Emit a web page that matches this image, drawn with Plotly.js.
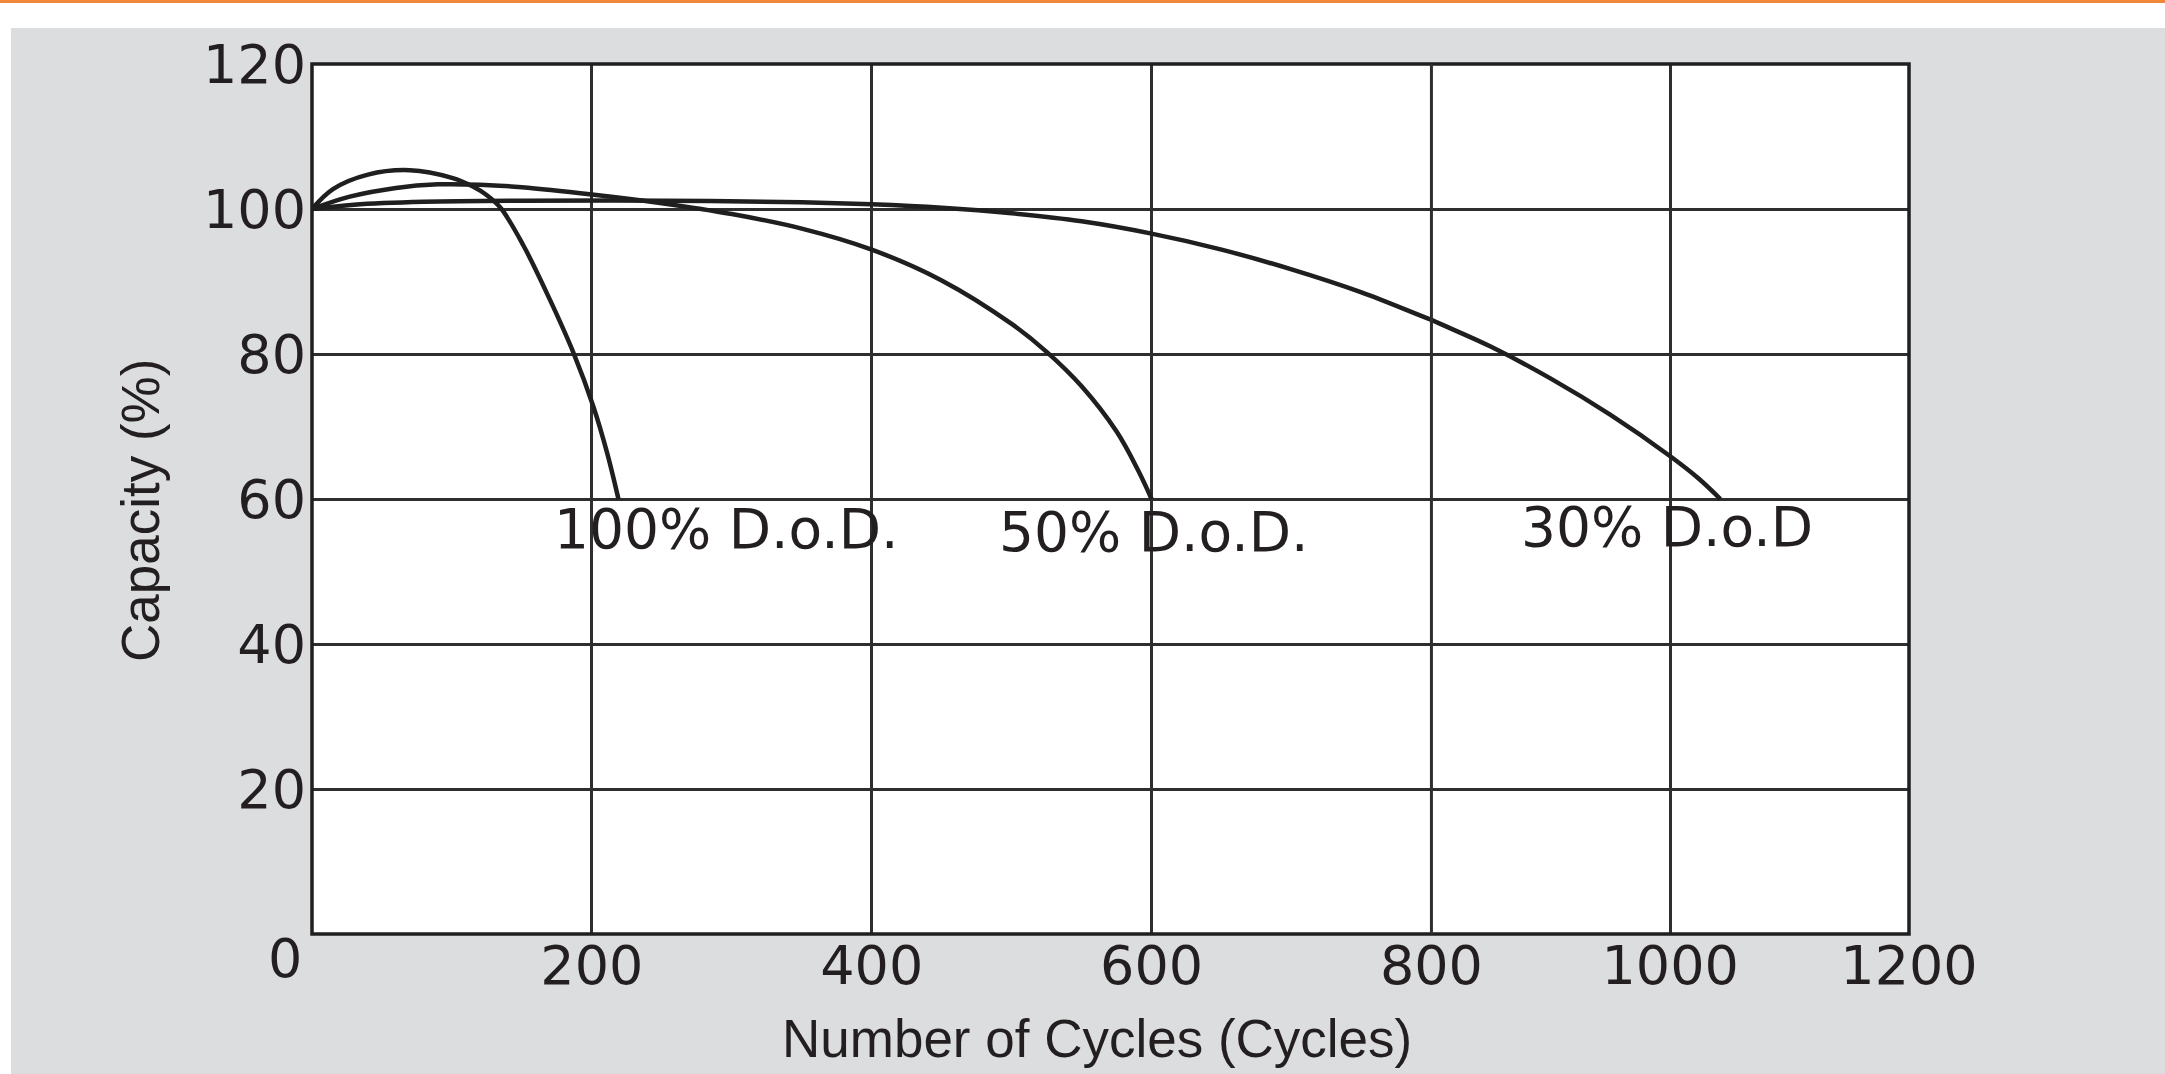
<!DOCTYPE html>
<html>
<head>
<meta charset="utf-8">
<script src="https://cdn.plot.ly/plotly-3.0.1.min.js"></script>
<style>
  html, body { margin: 0; padding: 0; background: #ffffff; width: 2165px; height: 1074px; overflow: hidden; }
  #bar { position: absolute; left: 0; top: 0; width: 2165px; height: 3px; background: #f0883a; }
  #chart { position: absolute; left: 11px; top: 28px; width: 2154px; height: 1046px; }
</style>
</head>
<body>
<div id="bar"></div>
<div id="chart"></div>
<script>
// ---- data ----
const cycles100 = [0, 15, 40, 70, 100, 115, 125, 135, 151, 170, 187, 201, 211, 219];
const cap100    = [100, 102.75, 104.75, 105.35, 104.3, 103.1, 101.9, 100.1, 95.0, 87.5, 80.1, 72.8, 66.3, 60];

const cycles50 = [0, 27, 60, 90, 120, 150, 200, 250, 300, 350, 400, 450, 500, 525, 550, 575, 590, 600];
const cap50    = [100, 101.7, 102.9, 103.4, 103.35, 103.0, 102.0, 100.8, 99.3, 97.3, 94.4, 90.15, 84.15, 80.3, 75.55, 69.3, 64.1, 60];

const cycles30 = [0, 30, 80, 150, 250, 350, 400, 450, 500, 550, 600, 650, 700, 750, 800, 850, 900, 950, 1000, 1024, 1042];
const cap30    = [100, 100.6, 101.0, 101.15, 101.15, 100.94, 100.65, 100.17, 99.4, 98.3, 96.6, 94.4, 91.67, 88.5, 84.7, 81.0, 76.6, 71.6, 65.9, 62.8, 60];

const seriesLabels = ['100% D.o.D.', '50% D.o.D.', '30% D.o.D'];
const xTickVals = [200, 400, 600, 800, 1000, 1200];
const xTickText = ['200', '400', '600', '800', '1000', '1200'];
const yTickVals = [20, 40, 60, 80, 100, 120];
const yTickText = ['20', '40', '60', '80', '100', '120'];
const xTitle = 'Number of Cycles (Cycles)';
const yTitle = 'Capacity (%)';

// ---- layout geometry ----
const W = 2154, H = 1046;
const mL = 300.7, mR = 255.5, mT = 36.3, mB = 139.7;
const split = 800;                       // the reference axis changes scale at 800
const dSplit = (1431.7 - 311.7) / (1909.5 - 311.7);

const lineCol = '#1f1f1f';
const gridCol = '#2e2e2e';
const textCol = '#231f20';
const tickFont = { family: 'DejaVu Sans', size: 54, color: textCol };
const labelFont = { family: 'DejaVu Sans', size: 55, color: textCol };
const titleFont = { family: 'Liberation Sans', size: 53, color: textCol };

function pick(xs, ys, test) {
  const ox = [], oy = [];
  xs.forEach((v, i) => { if (test(v)) { ox.push(v); oy.push(ys[i]); } });
  return { x: ox, y: oy };
}
const a30 = pick(cycles30, cap30, v => v <= 900);
const b30 = pick(cycles30, cap30, v => v >= 700);

const lineStyle = { color: lineCol, width: 4.5, shape: 'spline', smoothing: 1 };
const traces = [
  { x: cycles100, y: cap100, xaxis: 'x', yaxis: 'y', mode: 'lines', line: lineStyle, name: seriesLabels[0] },
  { x: cycles50, y: cap50, xaxis: 'x', yaxis: 'y', mode: 'lines', line: lineStyle, name: seriesLabels[1] },
  { x: a30.x, y: a30.y, xaxis: 'x', yaxis: 'y', mode: 'lines', line: lineStyle, name: seriesLabels[2] },
  { x: b30.x, y: b30.y, xaxis: 'x2', yaxis: 'y', mode: 'lines', line: lineStyle, name: seriesLabels[2] }
];

const xa1 = xTickVals.map((v, i) => [v, xTickText[i]]).filter(p => p[0] <= split);
const xa2 = xTickVals.map((v, i) => [v, xTickText[i]]).filter(p => p[0] > split);

const commonX = {
  showgrid: true, gridcolor: gridCol, gridwidth: 3,
  showline: false,
  zeroline: false, ticks: '', tickfont: tickFont, ticklabelstandoff: -5,
  fixedrange: true
};

const layout = {
  width: W, height: H,
  margin: { l: mL, r: mR, t: mT, b: mB, pad: 0 },
  paper_bgcolor: '#dcdddf',
  plot_bgcolor: '#ffffff',
  showlegend: false,
  xaxis: Object.assign({}, commonX, {
    domain: [0, dSplit], range: [0, split], anchor: 'y',
    tickmode: 'array', tickvals: xa1.map(p => p[0]), ticktext: xa1.map(p => p[1])
  }),
  xaxis2: Object.assign({}, commonX, {
    domain: [dSplit, 1], range: [split, 1200], anchor: 'y',
    tickmode: 'array', tickvals: xa2.map(p => p[0]), ticktext: xa2.map(p => p[1])
  }),
  yaxis: {
    range: [0, 120], anchor: 'x',
    tickmode: 'array', tickvals: yTickVals, ticktext: yTickText,
    showgrid: true, gridcolor: gridCol, gridwidth: 3,
    showline: false,
    zeroline: false, ticks: '', tickfont: tickFont, ticklabelstandoff: 5,
    fixedrange: true
  },
  shapes: [
    // frame of the plotting area
    { type: 'rect', xref: 'paper', yref: 'paper', x0: 0, x1: 1, y0: 0, y1: 1,
      line: { color: lineCol, width: 3.5 }, fillcolor: 'rgba(0,0,0,0)', layer: 'above' },
    // grid line where the axis changes scale (800 cycles) = boundary of the two x domains
    { type: 'line', xref: 'paper', yref: 'paper', x0: dSplit, x1: dSplit, y0: 0, y1: 1,
      line: { color: gridCol, width: 3 }, layer: 'above' }
  ],
  annotations: [
    { text: '0', xref: 'paper', yref: 'paper', x: 0, y: 0, xanchor: 'right', yanchor: 'middle',
      xshift: -8, yshift: -24, showarrow: false, font: tickFont },
    { text: xTitle, xref: 'paper', yref: 'paper', x: 0.4918, y: 0, xanchor: 'center', yanchor: 'middle',
      yshift: -104, showarrow: false, font: titleFont },
    { text: yTitle, xref: 'paper', yref: 'paper', x: 0, y: 0.5, xanchor: 'center', yanchor: 'middle',
      xshift: -172, yshift: -12, textangle: -90, showarrow: false, font: titleFont },
    { text: seriesLabels[0], xref: 'x', yref: 'y', x: 171.6, y: 55.9, xanchor: 'left', yanchor: 'middle',
      showarrow: false, font: labelFont },
    { text: seriesLabels[1], xref: 'x', yref: 'y', x: 489.5, y: 55.5, xanchor: 'left', yanchor: 'middle',
      showarrow: false, font: labelFont },
    { text: seriesLabels[2], xref: 'x2', yref: 'y', x: 873, y: 56.2, xanchor: 'left', yanchor: 'middle',
      showarrow: false, font: labelFont }
  ]
};

Plotly.newPlot('chart', traces, layout, { staticPlot: true, displayModeBar: false });
</script>
</body>
</html>
